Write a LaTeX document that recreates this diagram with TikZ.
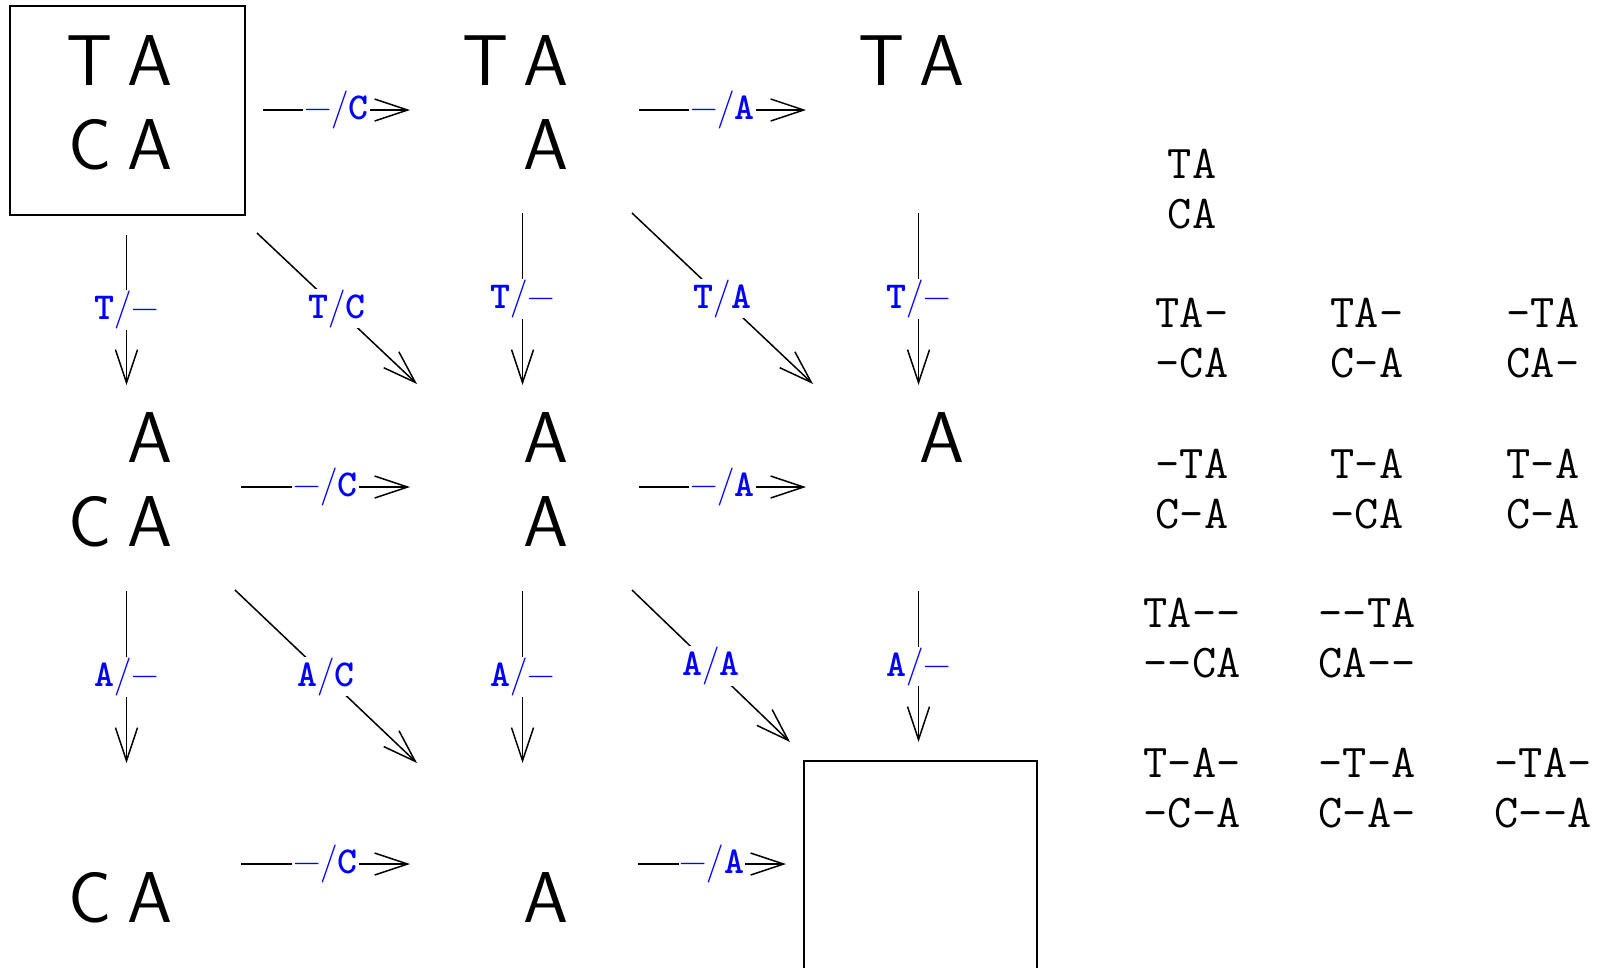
\documentclass[tikz,border=0pt]{standalone}
\usetikzlibrary{arrows.meta}
\newcommand{\cellrow}[2]{\makebox[60pt]{\vphantom{T}#1}\makebox[60pt]{#2}}
\newcommand{\gapc}{\mbox{-}}
\newcommand{\tl}[1]{{\ttfamily\bfseries #1}}
\tikzset{
  cell/.style={inner sep=0pt, anchor=north, align=center, font=\fontsize{72}{84}\selectfont\sffamily},
  lab/.style={font=\fontsize{38}{38}\selectfont, text=blue, fill=white, inner sep=1pt},
  arr/.style={line width=1.5pt, -{Straight Barb[length=33pt,width=22pt,line width=1.5pt]}},
  boxline/.style={line width=1.8pt},
  aln/.style={inner sep=0pt, anchor=north, align=center, font=\fontsize{47}{50}\selectfont\ttfamily},
}
\begin{document}
\begin{tikzpicture}[x=1pt,y=-1pt]
\useasboundingbox (0,0) rectangle (1604,967);
% grid cells
\node[cell] (c00) at (120,35)  {\cellrow{T}{A}\\\cellrow{C}{A}};
\node[cell] (c10) at (516,35)  {\cellrow{T}{A}\\\cellrow{}{A}};
\node[cell] (c20) at (912,35)  {\cellrow{T}{A}\\\cellrow{}{}};
\node[cell] (c01) at (120,412) {\cellrow{}{A}\\\cellrow{C}{A}};
\node[cell] (c11) at (516,412) {\cellrow{}{A}\\\cellrow{}{A}};
\node[cell] (c21) at (912,412) {\cellrow{}{A}\\\cellrow{}{}};
\node[cell] (c02) at (120,789) {\cellrow{}{}\\\cellrow{C}{A}};
\node[cell] (c12) at (516,789) {\cellrow{}{}\\\cellrow{}{A}};
\node[cell] (c22) at (912,789) {\cellrow{}{}\\\cellrow{}{}};
% boxes
\draw[boxline] ([shift={(-110,-29)}]c00.north) rectangle ([shift={(125,180)}]c00.north);
\draw[boxline] ([shift={(-108,-28)}]c22.north) rectangle ([shift={(125,181)}]c22.north);
% horizontal arrows
\draw[arr] ([shift={(143,75)}]c00.north) -- node[lab]{−/\tl{C}} ([shift={(-106,75)}]c10.north);
\draw[arr] ([shift={(123,75)}]c10.north) -- node[lab]{−/\tl{A}} ([shift={(-106,75)}]c20.north);
\draw[arr] ([shift={(121,75)}]c01.north) -- node[lab]{−/\tl{C}} ([shift={(-106,75)}]c11.north);
\draw[arr] ([shift={(123,75)}]c11.north) -- node[lab]{−/\tl{A}} ([shift={(-106,75)}]c21.north);
\draw[arr] ([shift={(121,75)}]c02.north) -- node[lab]{−/\tl{C}} ([shift={(-106,75)}]c12.north);
\draw[arr] ([shift={(122,75)}]c12.north) -- node[lab]{−/\tl{A}} ([shift={(-126,75)}]c22.north);
% vertical arrows
\draw[arr] ([shift={(6.5,200)}]c00.north) -- node[lab]{\tl{T}/−} ([shift={(6.5,-27)}]c01.north);
\draw[arr] ([shift={(6.5,178)}]c10.north) -- node[lab]{\tl{T}/−} ([shift={(6.5,-27)}]c11.north);
\draw[arr] ([shift={(6.5,178)}]c20.north) -- node[lab]{\tl{T}/−} ([shift={(6.5,-27)}]c21.north);
\draw[arr] ([shift={(6.5,179)}]c01.north) -- node[lab]{\tl{A}/−} ([shift={(6.5,-26)}]c02.north);
\draw[arr] ([shift={(6.5,179)}]c11.north) -- node[lab]{\tl{A}/−} ([shift={(6.5,-26)}]c12.north);
\draw[arr] ([shift={(6.5,179)}]c21.north) -- node[lab]{\tl{A}/−} ([shift={(6.5,-47)}]c22.north);
% diagonal arrows
\draw[arr] ([shift={(137,198)}]c00.north) -- node[lab]{\tl{T}/\tl{C}} ([shift={(-99,-28)}]c11.north);
\draw[arr] ([shift={(116,178)}]c10.north) -- node[lab]{\tl{T}/\tl{A}} ([shift={(-99,-28)}]c21.north);
\draw[arr] ([shift={(115,178)}]c01.north) -- node[lab]{\tl{A}/\tl{C}} ([shift={(-99,-26)}]c12.north);
\draw[arr] ([shift={(116,178)}]c11.north) -- node[lab]{\tl{A}/\tl{A}} ([shift={(-122,-47)}]c22.north);
% alignments
\node[aln] (a1)  at (1192,149.3) {TA\\CA};
\node[aln] (a2)  at (1192,298.3) {TA\gapc\\\gapc CA};
\node[aln] (a3)  at (1367,298.3) {TA\gapc\\C\gapc A};
\node[aln] (a4)  at (1543,298.3) {\gapc TA\\CA\gapc};
\node[aln] (a5)  at (1192,449.3) {\gapc TA\\C\gapc A};
\node[aln] (a6)  at (1367,449.3) {T\gapc A\\\gapc CA};
\node[aln] (a7)  at (1543,449.3) {T\gapc A\\C\gapc A};
\node[aln] (a8)  at (1192,598.3) {TA\gapc\gapc\\\gapc\gapc CA};
\node[aln] (a9)  at (1367,598.3) {\gapc\gapc TA\\CA\gapc\gapc};
\node[aln] (a10) at (1192,748.3) {T\gapc A\gapc\\\gapc C\gapc A};
\node[aln] (a11) at (1367,748.3) {\gapc T\gapc A\\C\gapc A\gapc};
\node[aln] (a12) at (1543,748.3) {\gapc TA\gapc\\C\gapc\gapc A};
\end{tikzpicture}
\end{document}
